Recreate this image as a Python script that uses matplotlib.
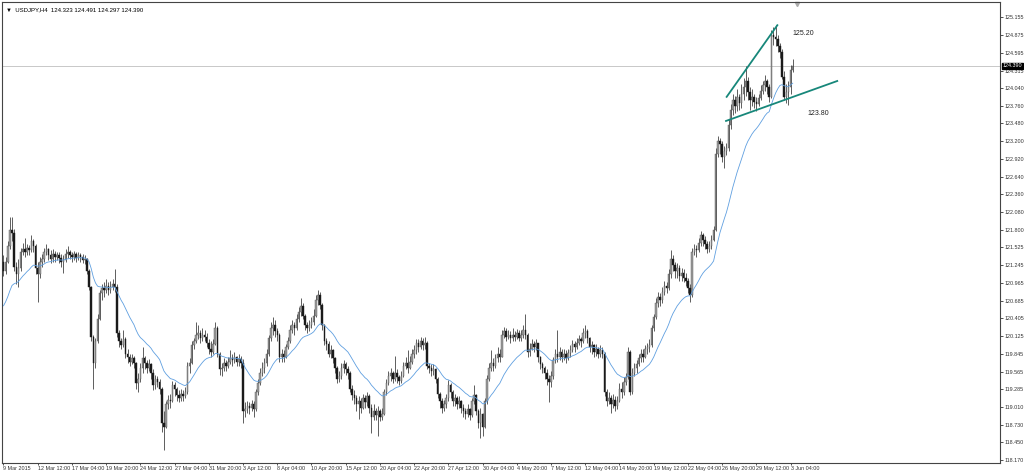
import matplotlib
matplotlib.use('Agg')
import matplotlib.pyplot as plt
import numpy as np
import pandas as pd

# USDJPY H4, 4h candles starting 9 Mar 2015 20:00
first_open = 121.30

closes = [
    121.15, 121.30, 121.55, 121.80, 121.75, 121.22, 121.10, 121.20, 121.45, 121.50,
    121.45, 121.52, 121.48, 121.62, 121.55, 121.20, 121.10, 121.30, 121.35, 121.45,
    121.50, 121.40, 121.35, 121.42, 121.38, 121.40, 121.36, 121.30, 121.33, 121.42,
    121.45, 121.40, 121.38, 121.42, 121.36, 121.40, 121.37, 121.32, 121.35, 121.15,
    120.90, 120.12, 119.70, 120.05, 120.40, 120.80, 120.88, 120.85, 120.92, 120.85,
    120.90, 120.95, 120.90, 120.18, 120.05, 119.98, 120.08, 119.85, 119.80, 119.72,
    119.78, 119.70, 119.38, 119.45, 119.62, 119.78, 119.70, 119.62, 119.68, 119.55,
    119.35, 119.45, 119.40, 119.30, 118.75, 118.70, 119.05, 119.12, 119.10, 119.35,
    119.30, 119.20, 119.15, 119.22, 119.18, 119.25, 119.65, 119.70, 119.98, 120.05,
    120.15, 120.18, 120.10, 120.15, 120.12, 120.02, 119.92, 119.88, 120.00, 120.25,
    119.85, 119.60, 119.62, 119.70, 119.65, 119.72, 119.78, 119.75, 119.80, 119.72,
    119.76, 119.70, 118.95, 118.98, 119.02, 119.00, 119.05, 118.98, 119.25, 119.38,
    119.55, 119.62, 119.70, 119.85, 120.10, 120.25, 120.30, 120.20, 120.15, 119.80,
    119.85, 119.80, 119.95, 120.05, 120.22, 120.30, 120.25, 120.40, 120.50, 120.60,
    120.45, 120.30, 120.25, 120.30, 120.35, 120.45, 120.70, 120.78, 120.62, 120.30,
    120.05, 120.00, 119.85, 119.90, 119.78, 119.62, 119.45, 119.50, 119.62, 119.68,
    119.60, 119.55, 119.30, 119.20, 119.15, 119.05, 119.10, 119.00, 119.15, 119.08,
    119.18, 119.00, 118.85, 118.95, 118.88, 118.95, 118.85, 118.90, 119.25, 119.38,
    119.50, 119.55, 119.45, 119.55, 119.48, 119.42, 119.50, 119.65, 119.70, 119.62,
    119.72, 119.85, 119.90, 120.02, 119.95, 120.05, 119.98, 120.02, 119.65, 119.62,
    119.58, 119.60, 119.45, 119.22, 119.10, 119.00, 119.05, 119.15, 119.35, 119.25,
    119.10, 119.15, 119.05, 119.10, 119.00, 118.95, 118.90, 118.98, 118.88, 119.10,
    119.20, 118.95, 118.75, 118.90, 118.70, 119.10, 119.45, 119.62, 119.70, 119.65,
    119.78, 119.85, 119.80, 120.15, 120.20, 120.12, 120.15, 120.10, 120.15, 120.12,
    120.18, 120.10, 120.15, 120.22, 120.15, 119.88, 119.92, 120.00, 119.95, 120.02,
    119.80, 119.68, 119.62, 119.55, 119.45, 119.40, 119.50, 119.75, 119.85, 119.80,
    119.88, 119.80, 119.85, 119.78, 119.86, 119.90, 120.00, 119.95, 120.02, 120.08,
    120.05, 120.18, 120.20, 120.10, 119.95, 119.98, 119.88, 119.92, 119.85, 119.90,
    119.85, 119.25, 119.10, 119.15, 119.05, 119.12, 119.02, 119.10, 119.30, 119.25,
    119.40, 119.48, 119.88, 119.25, 119.55, 119.62, 119.68, 119.78, 119.85, 119.80,
    119.92, 119.95, 119.98, 120.25, 120.42, 120.65, 120.75, 120.70, 120.82, 120.92,
    120.88, 121.10, 121.35, 121.25, 121.15, 121.20, 121.08, 121.12, 121.05, 121.00,
    120.88, 120.78, 121.45, 121.50, 121.48, 121.60, 121.72, 121.65, 121.58, 121.50,
    121.55, 121.65, 121.80, 123.00, 123.20, 123.15, 122.95, 123.05, 123.10, 123.45,
    123.70, 123.85, 123.75, 123.90, 123.80, 123.95, 124.05, 124.15, 123.98, 123.85,
    123.90, 123.82, 123.78, 123.88, 124.00, 124.08, 124.15, 124.05, 123.90, 124.88,
    124.85, 124.82, 124.70, 124.60, 124.22, 123.90, 123.98, 124.05, 124.32, 124.39,
]

highs = [
    121.40, 121.38, 121.62, 122.01, 122.00, 121.82, 121.30, 121.35, 121.52, 121.60,
    121.68, 121.58, 121.57, 121.72, 121.66, 121.58, 121.30, 121.38, 121.42, 121.52,
    121.58, 121.52, 121.48, 121.50, 121.47, 121.46, 121.45, 121.42, 121.40, 121.50,
    121.55, 121.48, 121.45, 121.47, 121.45, 121.46, 121.44, 121.42, 121.40, 121.36,
    121.18, 120.92, 120.15, 120.10, 120.48, 120.85, 120.95, 120.98, 121.02, 120.98,
    121.00, 121.02, 121.19, 120.95, 120.22, 120.10, 120.22, 120.12, 119.92, 119.85,
    119.85, 119.82, 119.72, 119.55, 119.70, 119.95, 119.82, 119.75, 119.76, 119.70,
    119.60, 119.52, 119.50, 119.45, 119.32, 118.95, 119.10, 119.20, 119.22, 119.42,
    119.40, 119.32, 119.28, 119.30, 119.28, 119.32, 119.72, 119.78, 120.05, 120.10,
    120.35, 120.30, 120.22, 120.25, 120.22, 120.18, 120.08, 120.05, 120.08, 120.35,
    120.28, 119.88, 119.70, 119.78, 119.75, 119.80, 119.90, 119.85, 119.88, 119.82,
    119.84, 119.82, 119.76, 119.08, 119.10, 119.08, 119.12, 119.10, 119.30, 119.45,
    119.62, 119.72, 119.78, 119.92, 120.15, 120.35, 120.43, 120.38, 120.25, 120.18,
    119.92, 119.90, 120.00, 120.12, 120.30, 120.38, 120.35, 120.48, 120.58, 120.73,
    120.65, 120.48, 120.35, 120.38, 120.42, 120.55, 120.78, 120.86, 120.82, 120.65,
    120.32, 120.10, 120.05, 119.98, 119.92, 119.80, 119.65, 119.58, 119.70, 119.75,
    119.72, 119.65, 119.58, 119.35, 119.28, 119.20, 119.18, 119.15, 119.22, 119.20,
    119.25, 119.22, 119.05, 119.05, 119.00, 119.02, 118.98, 119.00, 119.30, 119.45,
    119.58, 119.62, 119.58, 119.82, 119.60, 119.52, 119.58, 119.72, 119.80, 119.90,
    119.82, 119.92, 119.98, 120.08, 120.08, 120.12, 120.10, 120.12, 120.05, 119.70,
    119.68, 119.68, 119.62, 119.48, 119.25, 119.15, 119.12, 119.22, 119.44, 119.38,
    119.28, 119.22, 119.18, 119.18, 119.12, 119.05, 119.00, 119.05, 119.00, 119.15,
    119.36, 119.22, 118.98, 119.00, 118.92, 119.15, 119.52, 119.70, 119.91, 119.78,
    119.85, 119.95, 119.92, 120.22, 120.27, 120.25, 120.22, 120.20, 120.25, 120.20,
    120.24, 120.22, 120.22, 120.30, 120.48, 120.18, 120.02, 120.08, 120.05, 120.08,
    120.02, 119.82, 119.72, 119.65, 119.60, 119.52, 119.58, 119.80, 119.92, 120.22,
    119.95, 119.92, 119.92, 119.90, 119.93, 119.98, 120.06, 120.05, 120.10, 120.15,
    120.12, 120.25, 120.30, 120.24, 120.12, 120.05, 120.00, 120.00, 119.95, 119.98,
    119.95, 119.88, 119.30, 119.25, 119.20, 119.22, 119.18, 119.18, 119.38, 119.40,
    119.48, 119.55, 119.95, 119.90, 119.62, 119.70, 119.75, 119.85, 119.92, 119.92,
    119.98, 120.02, 120.08, 120.30, 120.48, 120.72, 120.82, 120.80, 120.90, 121.00,
    120.98, 121.18, 121.49, 121.40, 121.30, 121.28, 121.25, 121.20, 121.18, 121.12,
    121.05, 120.95, 121.52, 121.58, 121.56, 121.68, 121.78, 121.75, 121.70, 121.62,
    121.62, 121.72, 121.86, 123.10, 123.28, 123.25, 123.20, 123.12, 123.18, 123.55,
    123.78, 123.95, 123.92, 124.02, 123.95, 124.10, 124.20, 124.38, 124.22, 124.05,
    124.02, 123.95, 123.90, 123.95, 124.08, 124.15, 124.25, 124.18, 124.10, 124.95,
    125.00, 125.03, 124.88, 124.75, 124.65, 124.30, 124.10, 124.15, 124.40, 124.491,
]

lows = [
    121.08, 121.10, 121.28, 121.50, 121.62, 121.15, 120.95, 120.90, 121.15, 121.40,
    121.38, 121.40, 121.40, 121.45, 121.45, 121.10, 120.67, 121.05, 121.22, 121.30,
    121.40, 121.32, 121.28, 121.30, 121.30, 121.33, 121.28, 121.22, 121.12, 121.30,
    121.36, 121.34, 121.30, 121.33, 121.30, 121.32, 121.30, 121.28, 121.26, 121.10,
    120.85, 120.05, 119.30, 119.62, 120.02, 120.38, 120.70, 120.75, 120.80, 120.78,
    120.80, 120.85, 120.82, 120.12, 119.95, 119.92, 119.95, 119.78, 119.70, 119.65,
    119.68, 119.62, 119.30, 119.25, 119.40, 119.55, 119.60, 119.55, 119.58, 119.45,
    119.28, 119.30, 119.32, 119.22, 118.62, 118.33, 118.68, 118.98, 119.00, 119.08,
    119.18, 119.10, 119.08, 119.10, 119.10, 119.15, 119.22, 119.55, 119.68, 119.92,
    120.02, 120.08, 120.02, 120.05, 120.05, 119.95, 119.85, 119.80, 119.85, 119.98,
    119.80, 119.52, 119.50, 119.58, 119.58, 119.62, 119.68, 119.65, 119.70, 119.65,
    119.66, 119.62, 118.75, 118.85, 118.92, 118.90, 118.95, 118.85, 118.95, 119.20,
    119.35, 119.50, 119.55, 119.65, 119.82, 120.05, 120.15, 120.12, 120.05, 119.72,
    119.72, 119.72, 119.78, 119.92, 120.02, 120.18, 120.15, 120.22, 120.35, 120.45,
    120.40, 120.22, 120.18, 120.20, 120.25, 120.30, 120.42, 120.62, 120.55, 120.22,
    119.98, 119.90, 119.80, 119.78, 119.70, 119.55, 119.38, 119.40, 119.45, 119.55,
    119.52, 119.45, 119.25, 119.12, 119.05, 118.95, 118.82, 118.92, 118.98, 119.00,
    119.02, 118.92, 118.60, 118.80, 118.80, 118.55, 118.78, 118.80, 118.88, 119.20,
    119.35, 119.42, 119.38, 119.42, 119.38, 119.35, 119.38, 119.48, 119.60, 119.55,
    119.60, 119.68, 119.78, 119.85, 119.88, 119.92, 119.90, 119.92, 119.60, 119.55,
    119.50, 119.52, 119.38, 119.15, 119.00, 118.92, 118.95, 119.00, 119.10, 119.15,
    119.02, 119.02, 118.98, 119.00, 118.92, 118.85, 118.82, 118.85, 118.80, 118.85,
    119.05, 118.88, 118.68, 118.52, 118.55, 118.68, 119.05, 119.42, 119.58, 119.58,
    119.62, 119.72, 119.72, 119.80, 120.10, 120.05, 120.08, 120.02, 120.05, 120.05,
    120.08, 120.05, 120.05, 120.10, 120.08, 119.80, 119.82, 119.90, 119.88, 119.90,
    119.72, 119.60, 119.55, 119.45, 119.35, 119.08, 119.32, 119.45, 119.70, 119.72,
    119.75, 119.72, 119.75, 119.70, 119.75, 119.80, 119.88, 119.88, 119.92, 119.98,
    119.96, 120.02, 120.10, 120.02, 119.88, 119.85, 119.80, 119.82, 119.78, 119.80,
    119.78, 119.18, 119.02, 119.05, 118.92, 119.00, 118.95, 118.98, 119.08, 119.15,
    119.20, 119.35, 119.45, 119.20, 119.22, 119.50, 119.55, 119.65, 119.72, 119.72,
    119.78, 119.85, 119.88, 119.95, 120.20, 120.40, 120.58, 120.60, 120.65, 120.78,
    120.80, 120.85, 121.05, 121.15, 121.05, 121.05, 121.00, 121.00, 120.98, 120.92,
    120.80, 120.66, 120.75, 121.40, 121.38, 121.45, 121.55, 121.55, 121.50, 121.44,
    121.45, 121.50, 121.62, 121.78, 122.95, 123.00, 122.88, 122.78, 122.98, 123.05,
    123.40, 123.62, 123.65, 123.68, 123.70, 123.72, 123.85, 123.92, 123.85, 123.70,
    123.75, 123.72, 123.68, 123.75, 123.85, 123.95, 124.00, 123.95, 123.82, 123.88,
    124.72, 124.70, 124.60, 124.52, 124.18, 123.85, 123.80, 123.77, 123.95, 124.297,
]

ma_start = 120.55
ma_period = 21

date_labels = [
    "9 Mar 2015", "12 Mar 12:00", "17 Mar 04:00", "19 Mar 20:00", "24 Mar 12:00",
    "27 Mar 04:00", "31 Mar 20:00", "3 Apr 12:00", "8 Apr 04:00", "10 Apr 20:00",
    "15 Apr 12:00", "20 Apr 04:00", "22 Apr 20:00", "27 Apr 12:00", "30 Apr 04:00",
    "4 May 20:00", "7 May 12:00", "12 May 04:00", "14 May 20:00", "19 May 12:00",
    "22 May 04:00", "26 May 20:00", "29 May 12:00", "3 Jun 04:00",
]
bars_per_label = 16

price_ticks = [
    125.155, 124.875, 124.595, 124.315, 124.040, 123.760, 123.480, 123.200, 122.920,
    122.640, 122.360, 122.080, 121.800, 121.525, 121.245, 120.965, 120.685, 120.405,
    120.125, 119.845, 119.565, 119.285, 119.010, 118.730, 118.450, 118.170,
]

current_price = 124.390
header = "\u25bc  USDJPY,H4  124.323 124.491 124.297 124.390"

# hand drawn wedge
upper_line_x = [338.1, 361.8]
upper_line_y = [123.90, 125.03]
lower_line_x = [337.8, 389.8]
lower_line_y = [123.52, 124.15]
notes = [("125.20", 374, 124.90), ("123.80", 381, 123.64)]


plt.rcParams['font.family'] = ['Liberation Sans', 'DejaVu Sans']

fig = plt.figure(figsize=(10.24, 4.71), dpi=100)
ax = fig.add_axes([2 / 1024, 8 / 471, 998 / 1024, 461 / 471])

n = len(closes)
x = np.arange(n)
c = np.array(closes)
o = np.array([first_open] + closes[:-1])
o[-1] = 124.323
h = np.maximum(np.array(highs), np.maximum(o, c))
l = np.minimum(np.array(lows), np.minimum(o, c))

# current price line
ax.axhline(current_price, color='#c8c8c8', lw=0.7, zorder=1)

ax.vlines(x, l, h, color='#333333', lw=0.55, zorder=2)
bottom = np.minimum(o, c)
height = np.maximum(np.abs(c - o), 0.012)
up = c >= o
ax.bar(x[up], height[up], bottom=bottom[up], width=0.7, facecolor='#9c9c9c',
       edgecolor='#555555', lw=0.3, zorder=3)
ax.bar(x[~up], height[~up], bottom=bottom[~up], width=0.7, facecolor='#1a1a1a',
       edgecolor='#1a1a1a', lw=0.3, zorder=3)

ma = pd.Series([ma_start] + closes).ewm(span=ma_period, adjust=False).mean().values[1:]
ax.plot(x, ma, color='#5f9fe0', lw=0.6, zorder=4)

ax.plot(upper_line_x, upper_line_y, color='#17877a', lw=1.3, zorder=5)
ax.plot(lower_line_x, lower_line_y, color='#17877a', lw=1.3, zorder=5)
for txt, xi, yi in notes:
    ax.text(xi, yi, txt, fontsize=5, color='#222222', ha='center', va='center')

ax.set_xlim(-0.7, 465.9)
ax.set_ylim(118.125, 125.396)

ax.yaxis.tick_right()
ax.set_yticks(price_ticks)
ax.set_yticklabels([f"{p:.3f}" for p in price_ticks])
ax.tick_params(axis='y', labelsize=3.9, length=2, width=0.6, pad=1,
               colors='#333333')

ax.set_xticks(np.arange(len(date_labels)) * bars_per_label)
ax.set_xticklabels(date_labels, ha='left')
ax.tick_params(axis='x', labelsize=3.9, length=1.5, width=0.6, pad=0.8,
               colors='#333333')

for s in ax.spines.values():
    s.set_color('#444444')
    s.set_linewidth(0.8)

ax.annotate(f"{current_price:.3f}", xy=(1.0, current_price),
            xycoords=('axes fraction', 'data'), xytext=(2.2, 0),
            textcoords='offset points', fontsize=3.9, color='white',
            va='center', ha='left',
            bbox=dict(boxstyle='square,pad=0.12', fc='black', ec='black'),
            annotation_clip=False, zorder=6)

ax.text(0.004, 0.988, header, transform=ax.transAxes, fontsize=4.3,
        va='top', ha='left', color='black')
ax.plot([371], [125.36], marker='v', color='#aaaaaa', ms=3, clip_on=False)

fig.savefig('out.png', dpi=100)
